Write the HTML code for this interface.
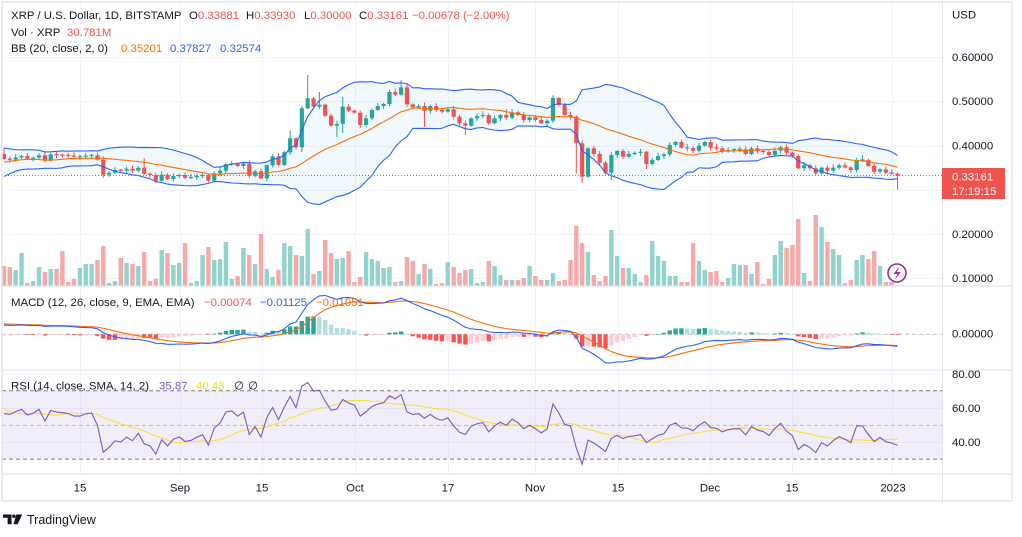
<!DOCTYPE html>
<html><head><meta charset="utf-8">
<style>
html,body{margin:0;padding:0;background:#fff;width:1022px;height:537px;overflow:hidden}
svg{display:block}
svg text{font-family:"Liberation Sans",Arial,sans-serif;font-size:11.4px;fill:#131722}
</style></head>
<body>
<svg id="c" width="1022" height="537" viewBox="0 0 1022 537" xmlns="http://www.w3.org/2000/svg">
<defs>
<clipPath id="cm"><rect x="2" y="2" width="940" height="284"/></clipPath>
<clipPath id="cd"><rect x="2" y="286" width="940" height="84"/></clipPath>
<clipPath id="cr"><rect x="2" y="370" width="940" height="104"/></clipPath>
<clipPath id="ca"><rect x="943" y="370" width="70" height="104"/></clipPath>
</defs>
<rect x="0" y="0" width="1022" height="537" fill="#fff"/>
<!-- grid -->
<g stroke="#f0f3fa" stroke-width="1" fill="none">
<path d="M80.5 2V474M180.5 2V474M262.5 2V474M355.5 2V474M448.5 2V474M535.5 2V474M618.5 2V474M710.5 2V474M792.5 2V474M892.5 2V474"/>
<path d="M2 57.5H942M2 101.5H942M2 146.5H942M2 190.5H942M2 234.5H942M2 278.5H942"/>
<path d="M2 374.5H942M2 408.5H942M2 442.5H942"/>
</g>
<!-- RSI band -->
<rect x="2" y="390.7" width="940" height="68.4" fill="rgba(126,87,194,0.1)"/>
<path d="M2 390.7H942M2 459.1H942" stroke="#787b86" stroke-width="1" stroke-dasharray="4,3" fill="none"/>
<path d="M2 425.4H942" stroke="#b8bac2" stroke-width="1" stroke-dasharray="4,3" fill="none"/>
<!-- MACD zero -->
<path d="M2 334.3H942" stroke="#c0c2c9" stroke-width="1" stroke-dasharray="4,3" fill="none"/>
<g id="dyn"></g>
<!-- separators & frame -->
<path d="M2 286H1012M2 370H1012M2 474H1012M942.5 2V501" stroke="#e0e3eb" stroke-width="1" fill="none"/>
<rect x="2" y="2" width="1010" height="499" fill="none" stroke="#e3e6ec" stroke-width="1.5"/>
<!-- price label -->
<rect x="942" y="168" width="63" height="31" fill="#ef5350"/>
<text x="952" y="180.5" style="fill:#fff">0.33161</text>
<text x="952" y="195" style="fill:#fff">17:19:15</text>
<!-- right axis -->
<text x="952" y="18.5">USD</text>
<text x="952" y="61">0.60000</text>
<text x="952" y="105">0.50000</text>
<text x="952" y="149.5">0.40000</text>
<text x="952" y="238">0.20000</text>
<text x="952" y="282">0.10000</text>
<text x="952" y="337.5">0.00000</text>
<g clip-path="url(#ca)"><text x="952" y="378">80.00</text></g>
<text x="952" y="412">60.00</text>
<text x="952" y="446">40.00</text>
<!-- time axis -->
<g text-anchor="middle">
<text x="80" y="491.5">15</text>
<text x="180" y="491.5">Sep</text>
<text x="262" y="491.5">15</text>
<text x="355" y="491.5">Oct</text>
<text x="448" y="491.5">17</text>
<text x="535" y="491.5">Nov</text>
<text x="618" y="491.5">15</text>
<text x="710" y="491.5">Dec</text>
<text x="792" y="491.5">15</text>
<text x="893" y="491.5">2023</text>
</g>
<!-- legends -->
<text y="19"><tspan x="11">XRP / U.S. Dollar, 1D, BITSTAMP</tspan><tspan x="189">O</tspan><tspan style="fill:#ef5350">0.33881</tspan><tspan x="246">H</tspan><tspan style="fill:#ef5350">0.33930</tspan><tspan x="304">L</tspan><tspan style="fill:#ef5350">0.30000</tspan><tspan x="359">C</tspan><tspan style="fill:#ef5350">0.33161</tspan><tspan x="412" style="fill:#ef5350">−0.00678 (−2.00%)</tspan></text>
<text y="36"><tspan x="11">Vol · XRP</tspan><tspan x="67" style="fill:#ef5350">30.781M</tspan></text>
<text y="52"><tspan x="11">BB (20, close, 2, 0)</tspan><tspan x="121" style="fill:#ff6d00">0.35201</tspan><tspan x="170" style="fill:#2962ff">0.37827</tspan><tspan x="220" style="fill:#2962ff">0.32574</tspan></text>
<text y="306"><tspan x="11">MACD (12, 26, close, 9, EMA, EMA)</tspan><tspan x="204" style="fill:#ff5252">−0.00074</tspan><tspan x="260" style="fill:#2962ff">−0.01125</tspan><tspan x="316" style="fill:#ff6d00">−0.01051</tspan></text>
<text y="389.5"><tspan x="11">RSI (14, close, SMA, 14, 2)</tspan><tspan x="159" style="fill:#7e57c2">35.87</tspan><tspan x="196" style="fill:#f2dc2c">40.43</tspan><tspan x="234">∅</tspan><tspan x="248">∅</tspan></text>
<!-- lightning -->
<circle cx="897" cy="273" r="9" fill="#fff" stroke="#9c27b0" stroke-width="1.6"/>
<path d="M899.5 266.5L893.5 274H897.3L894.8 279.8L900.8 272H897Z" fill="#9c27b0"/>
<!-- logo -->
<g fill="#131722">
<path d="M3 514.5H11.5V524.2H7.6V517.8H3Z"/>
<circle cx="13.8" cy="516.2" r="1.7"/>
<path d="M16.2 514.5H22.2L17.6 524.2H13.6Z"/>
</g>
<text x="27" y="524" style="font-size:12.5px">TradingView</text>
</svg>
<script>
(function(){
const pre=[181,183,180,184,182,179,183,185,182,180,184,181,179,182,180,183,181,178,180,182,179,178,175,170,165,158,152,150,155,160,165,168,162,158,155,160,165,170,162,158];
const cl=[159,159.5,157.5,156,158.7,157.7,155.3,160.7,154.3,155,155.3,155.7,156.7,156.7,155.7,155.3,159.7,174.7,172.7,170,170.7,168.7,170.7,167.7,173.7,175,180.7,174.7,179,176,175,177.7,177.3,176,175,180.7,173.3,170.7,164.3,163.7,166,163.7,175.7,171.3,178.3,165.3,156.3,165,152.3,138.3,147.3,108.3,98.3,106.7,104.7,115.7,125.7,124,106.7,110.7,112.7,125,118.3,110,106,104,92,94.7,87.3,104.3,107.3,106,110.7,106,110,111.7,109.3,116.7,123.3,125.7,118.3,116,115,123.3,118.3,115,117.7,112.3,115,120,117.3,120,123.3,120.7,98,105,115,116.7,143.3,176.7,148.3,154,162.7,172.7,155,151,156.7,154,153,151.7,164,160,156,154.3,145,142,147.7,148,150.7,145.7,142,147.7,148.3,151.7,150,149.3,149.3,154,148.3,151,152,155,150.7,147.3,152.7,156,168.3,165.3,168.3,173.3,167.7,170.7,167.7,165.3,167.3,170,160,160,166,171.7,169.3,172.7,173.7,175.6];
const vol=[266,267,270,253,283,281,267,272,269,269,251,282,279,268,264,264,260,246,283,281,258,263,264,266,252,281,279,250,253,265,263,243,283,281,255,247,260,259,242,279,276,248,255,264,234,269,277,270,243,246,255,256,229,274,271,240,253,259,
258,251,282,277,252,259,261,268,267,282,281,257,261,274,264,269,284,283,262,267,273,270,269,283,282,261,266,275,280,280,280,278,266,276,280,280,273,281,280,260,226,243,252,275,281,276,230,256,268,268,274,
282,275,241,256,261,276,276,282,282,243,261,270,272,271,282,278,264,265,265,274,262,284,279,255,241,248,245,219,273,281,215,227,242,249,255,283,280,260,255,259,251,266,282,282,285];
const hl={0:[148,null],13:[null,160],24:[158,null],49:[130.7,null],51:[null,152],52:[75,null],54:[92,null],57:[null,137],58:[97,133],68:[80,null],69:[84,null],72:[null,127],79:[null,135],86:[109,null],98:[null,173],99:[null,183],104:[null,180],110:[null,169],147:[155,null],153:[172.3,189.6]};
const X=i=>4+5.84*i;
const f=v=>(+v).toFixed(2);
const all=pre.concat(cl);const N=all.length,off=40;
const P=y=>0.5-(y-101)/443;
const G='#26a69a',R='#ef5350';
let h='';
h+='<g clip-path="url(#cm)">';
for(let i=0;i<cl.length;i++){
 const o=i==0?154:cl[i-1],c=cl[i];const up=c<=o;
 const t=vol[i];
 h+=`<rect x="${f(X(i)-2.2)}" y="${t}" width="4.4" height="${f(285.8-t)}" fill="${up?'#93d3cd':'#f7a9a8'}"/>`;
}
let U=[],L=[],B=[];
for(let k=off;k<N;k++){let s=0;for(let j=k-19;j<=k;j++)s+=all[j];const mu=s/20;let v=0;for(let j=k-19;j<=k;j++)v+=(all[j]-mu)*(all[j]-mu);const sd=Math.sqrt(v/20);const x=X(k-off);U.push([x,mu-2*sd]);L.push([x,mu+2*sd]);B.push([x,mu]);}
const pts=a=>a.map(q=>f(q[0])+','+f(q[1])).join(' ');
h+=`<polygon points="${pts(U)} ${pts(L.slice().reverse())}" fill="rgba(33,150,243,0.06)"/>`;
for(let i=0;i<cl.length;i++){
 const o=i==0?154:cl[i-1],c=cl[i];const up=c<=o;const col=up?G:R;
 let top=Math.min(o,c),bot=Math.max(o,c);if(bot-top<1.2){const m=(top+bot)/2;top=m-0.6;bot=m+0.6;}
 let hi=top-(1+((i*7)%5)*0.6),lo=bot+(1+((i*3)%4)*0.6);
 if(hl[i]){if(hl[i][0]!=null)hi=hl[i][0];if(hl[i][1]!=null)lo=hl[i][1];}
 const x=X(i);
 h+=`<rect x="${f(x-0.5)}" y="${f(hi)}" width="1" height="${f(lo-hi)}" fill="${col}"/>`;
 h+=`<rect x="${f(x-2.1)}" y="${f(top)}" width="4.2" height="${f(bot-top)}" fill="${col}"/>`;
}
h+=`<polyline points="${pts(B)}" fill="none" stroke="#ff6d00" stroke-width="1.1"/>`;
h+=`<polyline points="${pts(U)}" fill="none" stroke="#2962ff" stroke-width="1.1"/>`;
h+=`<polyline points="${pts(L)}" fill="none" stroke="#2962ff" stroke-width="1.1"/>`;
h+=`<path d="M2 175.5H942" stroke="#ef5350" stroke-width="1" stroke-dasharray="1,2"/>`;
h+='</g>';
const p=all.map(P);
const ema=(a,n)=>{const k=2/(n+1);const e=[a[0]];for(let i=1;i<a.length;i++)e.push(a[i]*k+e[i-1]*(1-k));return e;};
const e12=ema(p,12),e26=ema(p,26);const md=e12.map((v,i)=>v-e26[i]);const sg=ema(md,9);const hs=md.map((v,i)=>v-sg[i]);
let mx=0;for(let k=off;k<N;k++)mx=Math.max(mx,md[k]);
const K=(334.3-295.5)/mx;const MY=v=>334.3-v*K;
h+='<g clip-path="url(#cd)">';
for(let k=off;k<N;k++){
 const v=hs[k],pv=hs[k-1];let col;
 if(v>=0)col=v>pv?'#26a69a':'#b2dfdb';else col=v<pv?'#ff5252':'#ffcdd2';
 const y=MY(v);const t=Math.min(y,334.3),b=Math.max(y,334.3);
 h+=`<rect x="${f(X(k-off)-2.2)}" y="${f(t)}" width="4.4" height="${f(Math.max(b-t,0.6))}" fill="${col}"/>`;
}
let mp=[],sp=[];for(let k=off;k<N;k++){mp.push([X(k-off),MY(md[k])]);sp.push([X(k-off),MY(sg[k])]);}
h+=`<polyline points="${pts(sp)}" fill="none" stroke="#ff6d00" stroke-width="1.1"/>`;
h+=`<polyline points="${pts(mp)}" fill="none" stroke="#2962ff" stroke-width="1.1"/>`;
h+='</g>';
let ag=0,al=0;const rsi=new Array(N).fill(50);
for(let i=1;i<N;i++){const ch=p[i]-p[i-1];const g=Math.max(ch,0),l=Math.max(-ch,0);
 if(i<=14){ag+=g/14;al+=l/14;}else{ag=(ag*13+g)/14;al=(al*13+l)/14;}
 if(i>=14)rsi[i]=al==0?100:100-100/(1+ag/al);}
const ma=rsi.map((v,i)=>{if(i<13)return v;let s=0;for(let j=i-13;j<=i;j++)s+=rsi[j];return s/14;});
const RY=v=>442-(v-40)*1.71;
let rp=[],mq=[];for(let k=off;k<N;k++){rp.push([X(k-off),RY(rsi[k])]);mq.push([X(k-off),RY(ma[k])]);}
h+='<g clip-path="url(#cr)">';
h+=`<polyline points="${pts(mq)}" fill="none" stroke="#f7e13e" stroke-width="1.1"/>`;
h+=`<polyline points="${pts(rp)}" fill="none" stroke="#7e57c2" stroke-width="1.1"/>`;
h+='</g>';
document.getElementById('dyn').innerHTML=h;
})();
</script>
</body></html>
